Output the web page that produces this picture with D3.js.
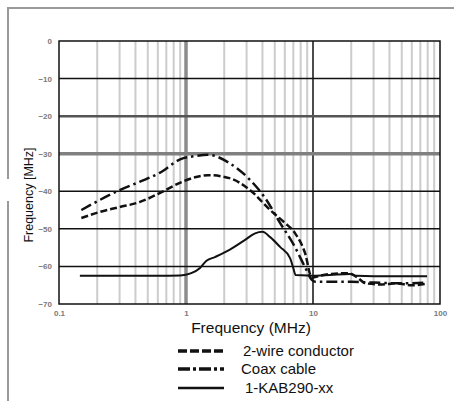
<!DOCTYPE html>
<html>
<head>
<meta charset="utf-8">
<script src="https://cdn.jsdelivr.net/npm/d3@7"></script>
<style>
  body { margin: 0; background: #fff; }
  text { font-family: "Liberation Sans", Arial, sans-serif; }
</style>
</head>
<body>
<div id="chart"></div>
<script>
// tick values / labels
var xTicks = [0.1, 1, 10, 100];
var xTickLabels = ["0.1", "1", "10", "100"];
var yTicks = [0, -10, -20, -30, -40, -50, -60, -70];

// series, [frequency MHz, level]
var twoWire = [
  [0.15, -47.1], [0.21, -45.5], [0.3, -44.2], [0.43, -42.9], [0.62, -40.5],
  [0.93, -37.5], [1.2, -36.2], [1.49, -35.7], [2.2, -36.5], [3.2, -39.7],
  [4.6, -45], [6.0, -48.4], [7.2, -51.1], [8.65, -56.4], [9.8, -63],
  [11, -62.6], [14, -62], [19, -61.8], [22, -62.8], [26, -64.5],
  [35, -64.8], [45, -64.5], [60, -65], [79, -64.6]
];
var coax = [
  [0.15, -45], [0.21, -42.3], [0.3, -39.7], [0.43, -37.5], [0.62, -35.1],
  [0.9, -31.5], [1.2, -30.6], [1.49, -30.3], [2.2, -32.5], [3.2, -37],
  [4.2, -41.8], [5.5, -48.4], [7.2, -54.8], [8.65, -60.2], [9.8, -63.6],
  [10.5, -64.1], [20, -64.1], [30, -64.3], [50, -64.5], [79, -64.3]
];
var kab = [
  [0.146, -62.5], [0.3, -62.5], [0.6, -62.5], [0.9, -62.4], [1.1, -61.8],
  [1.29, -60.4], [1.45, -58.5], [1.69, -57.5], [2.2, -55.6], [2.9, -53],
  [3.5, -51.2], [4.0, -50.8], [4.6, -52.2], [5.5, -54.8], [6.6, -57.8],
  [7.0, -60.5], [7.3, -62.3], [9, -62.4], [10, -62.5], [13.6, -62.3],
  [19.5, -62], [22, -62.5], [30, -62.6], [50, -62.6], [79, -62.6]
];

var svg = d3.select("#chart").append("svg")
  .attr("width", 454)
  .attr("height", 401);

var x = d3.scaleLog().domain([0.1, 100]).range([59, 440]);
var y = d3.scaleLinear().domain([-70, 0]).range([304, 41]);

// outer frame (gap on the left side)
svg.append("path")
  .attr("d", "M8,179V8H454 M8,201V401")
  .attr("fill", "none")
  .attr("stroke", "#9a9a9a")
  .attr("stroke-width", 2);

// vertical grid
var minor = [];
[0.1, 1, 10].forEach(function(d) {
  for (var k = 2; k <= 9; k++) minor.push(k * d);
});
svg.append("g").selectAll("line")
  .data(minor)
  .enter().append("line")
    .attr("x1", function(d) { return x(d); })
    .attr("x2", function(d) { return x(d); })
    .attr("y1", y(0))
    .attr("y2", y(-70))
    .attr("stroke", "#cccccc")
    .attr("stroke-width", 2);

svg.append("line")
  .attr("x1", x(1)).attr("x2", x(1))
  .attr("y1", y(0)).attr("y2", y(-70))
  .attr("stroke", "#8c8c8c")
  .attr("stroke-width", 3.5);
svg.append("line")
  .attr("x1", x(10)).attr("x2", x(10))
  .attr("y1", y(0)).attr("y2", y(-70))
  .attr("stroke", "#111")
  .attr("stroke-width", 1.5);

// horizontal grid
svg.append("g").selectAll("line")
  .data(yTicks.slice(1, -1))
  .enter().append("line")
    .attr("x1", x(0.1))
    .attr("x2", x(100))
    .attr("y1", function(d) { return y(d); })
    .attr("y2", function(d) { return y(d); })
    .attr("stroke", function(d) { return d == -30 ? "#808080" : (d == -20 ? "#555" : "#111"); })
    .attr("stroke-width", function(d) { return d == -30 ? 3.5 : (d == -20 ? 2.5 : 1.5); });

// plot frame
svg.append("rect")
  .attr("x", x(0.1))
  .attr("y", y(0))
  .attr("width", x(100) - x(0.1))
  .attr("height", y(-70) - y(0))
  .attr("fill", "none")
  .attr("stroke", "#111")
  .attr("stroke-width", 1.5);

// tick labels
var yAxis = svg.append("g")
  .attr("transform", "translate(" + x(0.1) + ",0)")
  .call(d3.axisLeft(y).tickValues(yTicks).tickSize(0).tickPadding(7));
var xAxis = svg.append("g")
  .attr("transform", "translate(0," + y(-70) + ")")
  .call(d3.axisBottom(x).tickValues(xTicks).tickSize(0).tickPadding(6)
    .tickFormat(function(d, i) { return xTickLabels[i]; }));
[yAxis, xAxis].forEach(function(a) {
  a.select(".domain").remove();
  a.selectAll("text")
    .attr("fill", "#7a7a7a")
    .style("font-size", "8px")
    .style("font-weight", "bold");
});

// series
var line = d3.line()
  .x(function(d) { return x(d[0]); })
  .y(function(d) { return y(d[1]); })
  .curve(d3.curveMonotoneX);

var series = [
  {name: "2-wire conductor", data: twoWire, dash: "7,3", width: 2.5, legendDash: "9,3", legendWidth: 3.5},
  {name: "Coax cable", data: coax, dash: "11,4,2.5,4", width: 2.5, legendDash: "12,3,3,3", legendWidth: 3.5},
  {name: "1-KAB290-xx", data: kab, dash: null, width: 2, legendDash: null, legendWidth: 2.5}
];

svg.append("g").selectAll("path")
  .data(series)
  .enter().append("path")
    .attr("d", function(d) { return line(d.data); })
    .attr("fill", "none")
    .attr("stroke", "#111")
    .attr("stroke-width", function(d) { return d.width; })
    .attr("stroke-dasharray", function(d) { return d.dash; });

// titles
svg.append("text")
  .attr("x", 251)
  .attr("y", 333)
  .attr("text-anchor", "middle")
  .style("font-size", "15.5px")
  .attr("fill", "#111")
  .text("Frequency (MHz)");

svg.append("text")
  .attr("transform", "translate(33,195) rotate(-90)")
  .attr("text-anchor", "middle")
  .style("font-size", "12.5px")
  .attr("fill", "#111")
  .text("Frequency [MHz]");

// legend
var legendY = [351, 369, 388];
var legendTextX = [243, 241, 245];
var lg = svg.append("g").selectAll("g")
  .data(series)
  .enter().append("g");
lg.append("line")
  .attr("x1", 178).attr("x2", 224)
  .attr("y1", function(d, i) { return legendY[i]; })
  .attr("y2", function(d, i) { return legendY[i]; })
  .attr("stroke", "#111")
  .attr("stroke-width", function(d) { return d.legendWidth; })
  .attr("stroke-dasharray", function(d) { return d.legendDash; });
lg.append("text")
  .attr("x", function(d, i) { return legendTextX[i]; })
  .attr("y", function(d, i) { return legendY[i] + 5; })
  .style("font-size", "15px")
  .attr("fill", "#111")
  .text(function(d) { return d.name; });
</script>
</body>
</html>
